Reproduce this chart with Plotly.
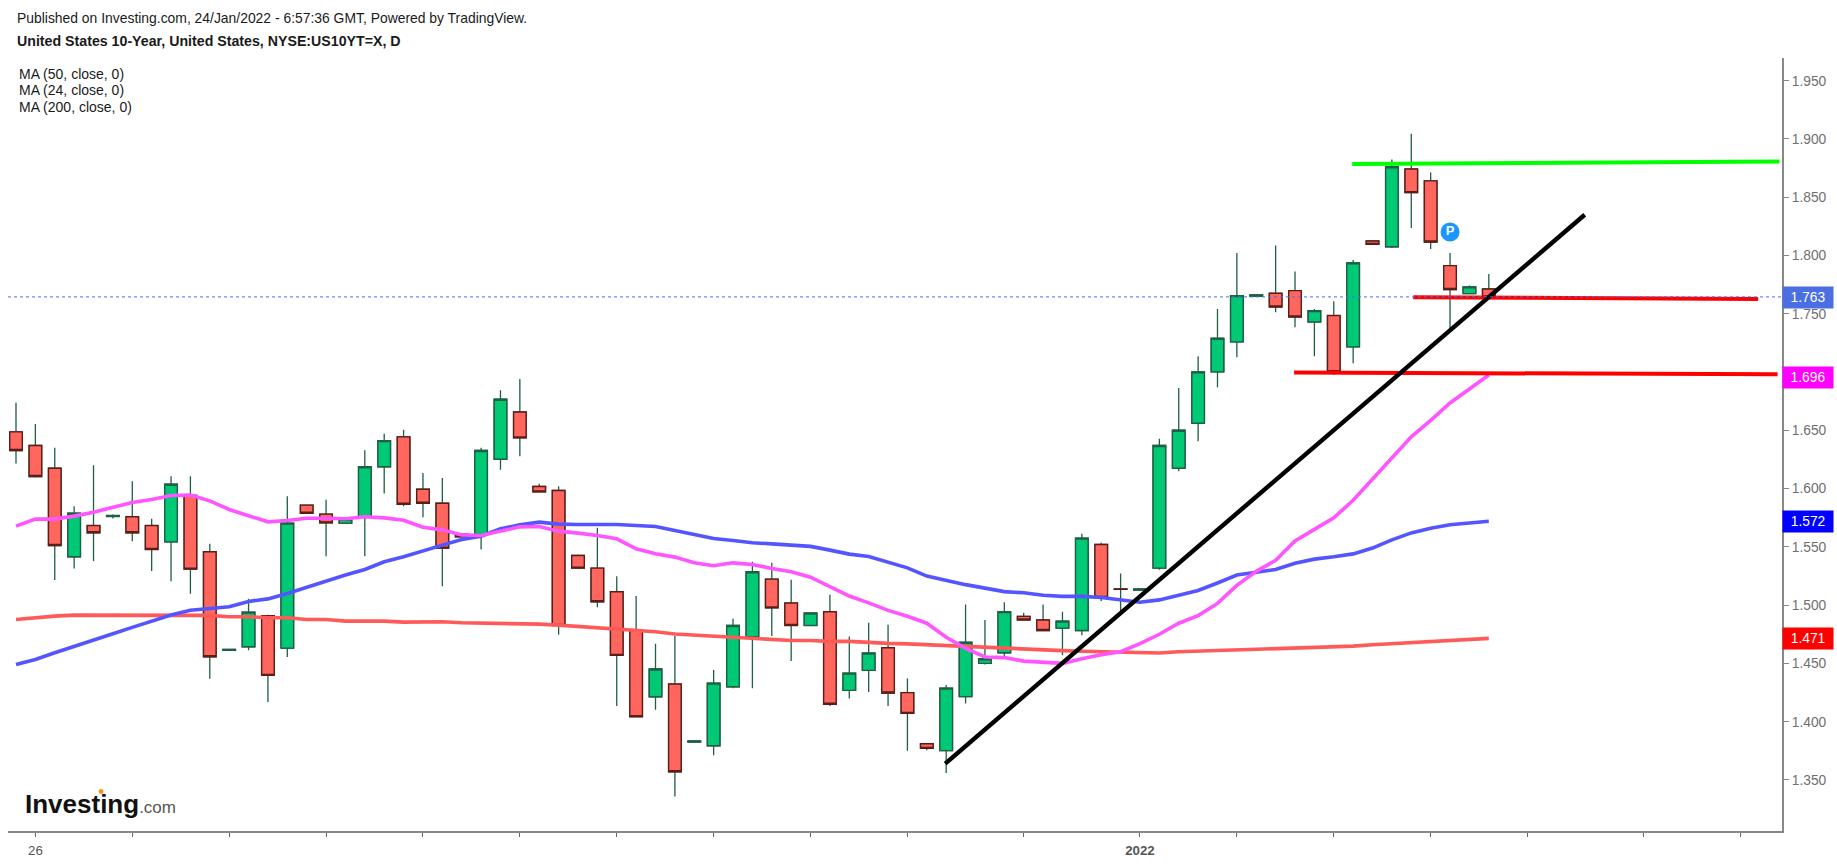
"""
US 10-year yield daily candles with moving averages, investing.com style
"""
import plotly.graph_objects as go

FONT = "Liberation Sans"

opens = [1.6487, 1.6370, 1.6175, 1.5415, 1.5683, 1.5761, 1.5758, 1.5683, 1.5543, 1.5941,
         1.5458, 1.4612, 1.4643, 1.4909, 1.4631, 1.5858, 1.5781, 1.5704, 1.5758, 1.6187,
         1.6444, 1.5995, 1.5875, 1.5609, 1.5606, 1.6252, 1.6658, 1.6018, 1.5984, 1.5426,
         1.5318, 1.5115, 1.4783, 1.4214, 1.4323, 1.3825, 1.3793, 1.4300, 1.4729, 1.5223,
         1.5018, 1.4826, 1.4943, 1.4269, 1.4440, 1.4634, 1.4249, 1.3811, 1.3752, 1.4215,
         1.4500, 1.4591, 1.4904, 1.4873, 1.4803, 1.4782, 1.5521, 1.5140, 1.5130, 1.5318,
         1.6175, 1.6561, 1.7002, 1.7259, 1.7650, 1.7676, 1.7699, 1.7430, 1.7485, 1.7216,
         1.8125, 1.8075, 1.8742, 1.8641, 1.7913, 1.7673, 1.7713]
highs = [1.6736, 1.6555, 1.6350, 1.5849, 1.6201, 1.5778, 1.6064, 1.5741, 1.6106, 1.6106,
         1.5526, 1.4620, 1.5054, 1.4917, 1.5935, 1.5864, 1.5904, 1.5743, 1.6330, 1.6470,
         1.6504, 1.6135, 1.6092, 1.5609, 1.6350, 1.6844, 1.6941, 1.6041, 1.6021, 1.5435,
         1.5664, 1.5249, 1.5078, 1.4669, 1.4735, 1.3835, 1.4443, 1.4883, 1.5372, 1.5363,
         1.5218, 1.4932, 1.5089, 1.4732, 1.4849, 1.4832, 1.4370, 1.3815, 1.4315, 1.5005,
         1.4873, 1.5025, 1.4934, 1.5005, 1.4944, 1.5612, 1.5535, 1.5272, 1.5140, 1.6427,
         1.6864, 1.7136, 1.7542, 1.8022, 1.7662, 1.8087, 1.7864, 1.7542, 1.7607, 1.7962,
         1.8130, 1.8823, 1.9045, 1.8712, 1.8022, 1.7742, 1.7842]
lows = [1.6215, 1.6095, 1.5215, 1.5315, 1.5378, 1.5743, 1.5549, 1.5292, 1.5206, 1.5098,
        1.4368, 1.4612, 1.4614, 1.4168, 1.4554, 1.5789, 1.5420, 1.5704, 1.5420, 1.5958,
        1.5849, 1.5755, 1.5163, 1.5586, 1.5478, 1.6161, 1.6278, 1.5972, 1.4746, 1.5318,
        1.4983, 1.4134, 1.4043, 1.4103, 1.3357, 1.3825, 1.3712, 1.4286, 1.4286, 1.4735,
        1.4520, 1.4826, 1.4134, 1.4200, 1.4254, 1.4134, 1.3750, 1.3755, 1.3560, 1.4157,
        1.4490, 1.4540, 1.4873, 1.4782, 1.4570, 1.4742, 1.5035, 1.4924, 1.5130, 1.5304,
        1.6150, 1.6407, 1.6870, 1.7127, 1.7650, 1.7513, 1.7384, 1.7136, 1.6975, 1.7076,
        1.8096, 1.8065, 1.8237, 1.8055, 1.7350, 1.7673, 1.7630]
closes = [1.6327, 1.6104, 1.5512, 1.5789, 1.5621, 1.5769, 1.5621, 1.5478, 1.6038, 1.5309,
          1.4557, 1.4620, 1.4940, 1.4397, 1.5704, 1.5789, 1.5706, 1.5738, 1.6187, 1.6412,
          1.5866, 1.5875, 1.5489, 1.5586, 1.6327, 1.6767, 1.6435, 1.5972, 1.4826, 1.5318,
          1.5029, 1.4569, 1.4043, 1.4452, 1.3570, 1.3835, 1.4331, 1.4826, 1.5286, 1.4977,
          1.4826, 1.4932, 1.4149, 1.4417, 1.4589, 1.4246, 1.4071, 1.3771, 1.4288, 1.4681,
          1.4540, 1.4944, 1.4873, 1.4782, 1.4863, 1.5575, 1.5065, 1.5135, 1.5140, 1.6370,
          1.6501, 1.7002, 1.7290, 1.7656, 1.7662, 1.7559, 1.7473, 1.7527, 1.7003, 1.7937,
          1.8096, 1.8762, 1.8540, 1.8116, 1.7708, 1.7731, 1.7645]

ma24 = [1.5678, 1.5738, 1.5738, 1.5764, 1.5798, 1.5838, 1.5881, 1.5906, 1.5941, 1.5944,
        1.5895, 1.5821, 1.5769, 1.5715, 1.5726, 1.5746, 1.5746, 1.5741, 1.5758, 1.5749,
        1.5729, 1.5669, 1.5646, 1.5603, 1.5598, 1.5635, 1.5672, 1.5675, 1.5635, 1.5618,
        1.5598, 1.5569, 1.5484, 1.5441, 1.5412, 1.5363, 1.5338, 1.5363, 1.5349, 1.5315,
        1.5286, 1.5240, 1.5163, 1.5078, 1.5020, 1.4955, 1.4905, 1.4845, 1.4725, 1.4630,
        1.4555, 1.4550, 1.4520, 1.4510, 1.4500, 1.4540, 1.4575, 1.4600, 1.4670, 1.4750,
        1.4845, 1.4910, 1.5015, 1.5170, 1.5290, 1.5385, 1.5550, 1.5650, 1.5750, 1.5900,
        1.6080, 1.6260, 1.6445, 1.6585, 1.6735, 1.6855, 1.6975]
ma50 = [1.4491, 1.4534, 1.4591, 1.4643, 1.4700, 1.4754, 1.4809, 1.4863, 1.4915, 1.4957,
        1.4969, 1.4986, 1.5032, 1.5054, 1.5100, 1.5155, 1.5206, 1.5258, 1.5306, 1.5372,
        1.5415, 1.5469, 1.5515, 1.5564, 1.5592, 1.5655, 1.5689, 1.5712, 1.5695, 1.5692,
        1.5692, 1.5692, 1.5684, 1.5675, 1.5641, 1.5604, 1.5572, 1.5555, 1.5535, 1.5526,
        1.5515, 1.5504, 1.5472, 1.5438, 1.5418, 1.5372, 1.5320, 1.5249, 1.5212, 1.5176,
        1.5146, 1.5116, 1.5106, 1.5085, 1.5075, 1.5075, 1.5065, 1.5045, 1.5025, 1.5045,
        1.5085, 1.5126, 1.5190, 1.5258, 1.5283, 1.5306, 1.5360, 1.5395, 1.5415, 1.5440,
        1.5490, 1.5560, 1.5620, 1.5660, 1.5690, 1.5708, 1.5720]
ma200 = [1.4877, 1.4892, 1.4906, 1.4914, 1.4914, 1.4914, 1.4914, 1.4914, 1.4914, 1.4912,
         1.4912, 1.4900, 1.4900, 1.4892, 1.4892, 1.4877, 1.4877, 1.4863, 1.4863, 1.4863,
         1.4854, 1.4854, 1.4857, 1.4849, 1.4846, 1.4846, 1.4846, 1.4837, 1.4829, 1.4817,
         1.4806, 1.4797, 1.4783, 1.4772, 1.4752, 1.4743, 1.4735, 1.4720, 1.4715, 1.4706,
         1.4697, 1.4697, 1.4689, 1.4689, 1.4677, 1.4672, 1.4668, 1.4660, 1.4652, 1.4645,
         1.4638, 1.4630, 1.4622, 1.4615, 1.4610, 1.4605, 1.4600, 1.4595, 1.4590, 1.4590,
         1.4600, 1.4605, 1.4610, 1.4615, 1.4620, 1.4625, 1.4630, 1.4635, 1.4640, 1.4648,
         1.4660, 1.4670, 1.4680, 1.4690, 1.4695, 1.4705, 1.4715]

trend_x = [47.95, 80.95]
trend_y = [1.3640, 1.8350]
green_x = [68.95, 91.0]
green_y = [1.8786, 1.8806]
resist_x = [72.1, 89.9]
resist_y = [1.7643, 1.7628]
support_x = [65.95, 90.9]
support_y = [1.6996, 1.6981]
marker_x = [74]
marker_y = [1.8202]

last_price = 1.7645
price_labels = [("1.763", 1.7644, "#4a6fe3"), ("1.696", 1.6956, "#ff00ff"),
                ("1.572", 1.5718, "#0000ff"), ("1.471", 1.4714, "#ff0000")]

y_ticks = [1.35, 1.40, 1.45, 1.50, 1.55, 1.60, 1.65, 1.70, 1.75, 1.80, 1.85, 1.90, 1.95]
x_ticks = [1, 6, 11, 16, 21, 26, 31, 36, 41, 46, 52, 58, 63, 68, 73, 78, 84, 89]
x_labels = ["26"] + [""] * 10 + ["<b>2022</b>"] + [""] * 6

days = list(range(len(closes)))
body_tops = [max(o, c) for o, c in zip(opens, closes)]
body_bottoms = [min(o, c) for o, c in zip(opens, closes)]


def paper_x(px):
    return (px - 8) / 1774


def paper_y(py):
    return (840.5 - py) / 782.5


fig = go.Figure()

for values, colour in [(ma200, "#ff5a5a"), (ma50, "#5555ff"), (ma24, "#ff55ff")]:
    fig.add_trace(go.Scatter(x=days, y=values, mode="lines",
                             line=dict(color=colour, width=3.6), hoverinfo="skip"))

# wicks are always dark green, so they get their own trace under the bodies
fig.add_trace(go.Candlestick(
    x=days, open=opens, high=highs, low=lows, close=closes,
    increasing=dict(line=dict(color="#1f5f44", width=1.3), fillcolor="#1f5f44"),
    decreasing=dict(line=dict(color="#1f5f44", width=1.3), fillcolor="#1f5f44"),
    whiskerwidth=0,
))
fig.add_trace(go.Candlestick(
    x=days, open=opens, high=body_tops, low=body_bottoms, close=closes,
    increasing=dict(line=dict(color="#1f5f44", width=1.4), fillcolor="#00c976"),
    decreasing=dict(line=dict(color="#5e1c18", width=1.4), fillcolor="#ff665e"),
    whiskerwidth=0,
))

for xs, ys, colour, w in [(green_x, green_y, "#00ff00", 4),
                          (resist_x, resist_y, "#ff0000", 4),
                          (support_x, support_y, "#ff0000", 4),
                          (trend_x, trend_y, "#000000", 4.4)]:
    fig.add_trace(go.Scatter(x=xs, y=ys, mode="lines", line=dict(color=colour, width=w),
                             hoverinfo="skip"))

fig.add_trace(go.Scatter(
    x=marker_x, y=marker_y, mode="markers+text", text=["<b>P</b>"],
    textposition="middle center", textfont=dict(family=FONT, size=13, color="#ffffff"),
    marker=dict(size=19, color="#1a96ff"), hoverinfo="skip",
))

fig.add_hline(y=last_price, line=dict(color="#4a6fe3", width=1, dash="dot"))

for text, value, colour in price_labels:
    fig.add_annotation(x=1, xref="paper", y=value, yref="y", xanchor="left", yanchor="middle",
                       text=text, showarrow=False, bgcolor=colour, width=48, height=19.4,
                       align="center", font=dict(family=FONT, size=13.8, color="#ffffff"))

header = [("Published on Investing.com, 24/Jan/2022 - 6:57:36 GMT, Powered by TradingView.", 15, 17.7, 13.9),
          ("<b>United States 10-Year, United States, NYSE:US10YT=X, D</b>", 15, 40.7, 14.2),
          ("MA (50, close, 0)", 16.5, 73.7, 14),
          ("MA (24, close, 0)", 16.5, 90.7, 14),
          ("MA (200, close, 0)", 16.5, 107.7, 14)]
for text, px, py, size in header:
    fig.add_annotation(x=paper_x(px), xref="paper", y=paper_y(py), yref="paper",
                       xanchor="left", yanchor="middle", text=text, showarrow=False,
                       font=dict(family=FONT, size=size, color="#1a1a1a"))

# logo
fig.add_annotation(x=paper_x(23), xref="paper", y=paper_y(813), yref="paper",
                   xanchor="left", yanchor="middle", showarrow=False,
                   text="<b>Investing</b><span style='font-size:17px;color:#555555'>.com</span>",
                   font=dict(family=FONT, size=26, color="#111111"))
fig.add_shape(type="circle", xref="paper", yref="paper", fillcolor="#f7941d", line_width=0,
              x0=paper_x(98.5), x1=paper_x(103.5), y0=paper_y(803), y1=paper_y(798))

fig.update_layout(
    width=1837, height=866,
    margin=dict(l=8, r=55, t=58, b=25.5),
    paper_bgcolor="#ffffff", plot_bgcolor="#ffffff",
    showlegend=False, boxgap=0.35, boxgroupgap=0, boxmode="overlay",
    hovermode=False,
)
fig.update_xaxes(
    range=[-0.413, 91.13], rangeslider_visible=False, showgrid=False, zeroline=False,
    showline=True, linecolor="#888888", linewidth=2,
    ticks="outside", ticklen=4, tickcolor="#666666", tickwidth=1, ticklabelstandoff=2,
    tickmode="array", tickvals=x_ticks, ticktext=x_labels,
    tickfont=dict(family=FONT, size=13.3, color="#555555"),
)
fig.update_yaxes(
    range=[1.3062, 1.9695], side="right", showgrid=False, zeroline=False,
    showline=True, linecolor="#888888", linewidth=2,
    ticks="outside", ticklen=5, tickcolor="#888888", tickwidth=1,
    tickmode="array", tickvals=y_ticks, ticktext=[f"{v:.3f}" for v in y_ticks],
    tickfont=dict(family=FONT, size=13.8, color="#6f6f6f"),
)

fig.write_html("out.html", config=dict(displayModeBar=False),
               post_script="document.body.style.margin='0';")
